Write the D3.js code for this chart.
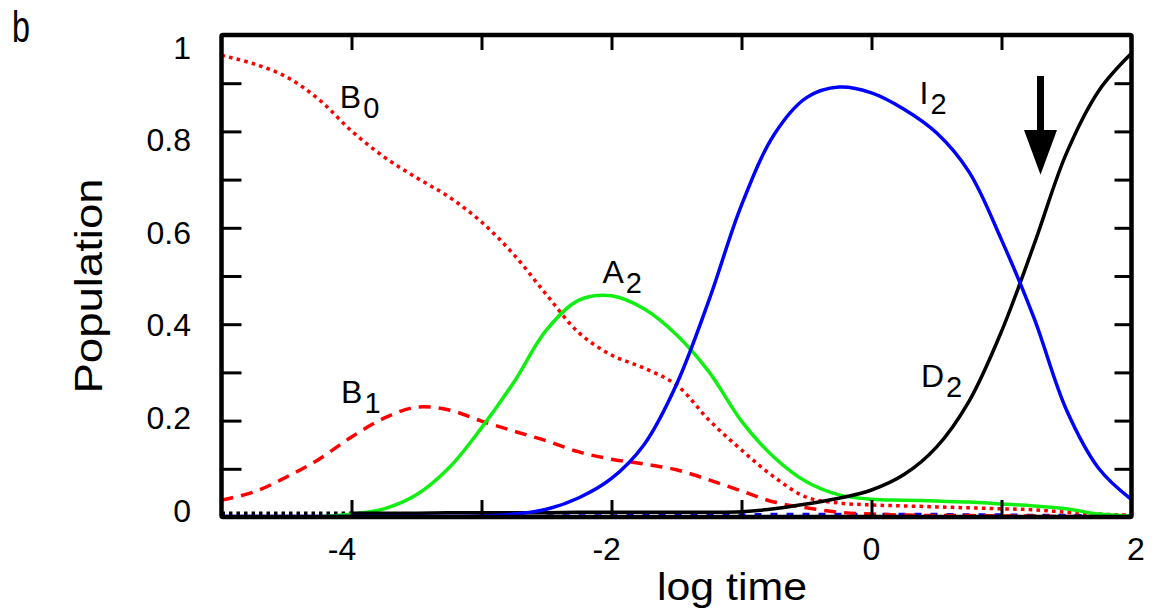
<!DOCTYPE html>
<html>
<head>
<meta charset="utf-8">
<script src="https://cdn.jsdelivr.net/npm/d3@7"></script>
<style>
    body { margin: 0; background: #fff; }
    svg { display: block; font-family: "Liberation Sans", Arial, sans-serif; }
</style>
</head>
<body>
<svg id="chart" width="1156" height="614"></svg>
<script>
// log time grid, every quarter decade
const LOG_TIME = [-5, -4.75, -4.5, -4.25, -4, -3.75, -3.5, -3.25, -3, -2.75, -2.5, -2.25, -2, -1.75, -1.5,
                  -1.25, -1, -0.75, -0.5, -0.25, 0, 0.25, 0.5, 0.75, 1, 1.25, 1.5, 1.75, 2];

const B0 = [0.958, 0.940, 0.913, 0.866, 0.801, 0.747, 0.704, 0.664, 0.612, 0.544, 0.461, 0.382, 0.336, 0.309, 0.274,
            0.201, 0.139, 0.083, 0.041, 0.029, 0.025, 0.023, 0.021, 0.019, 0.017, 0.015, 0.010, 0.006, 0.004];
const B1 = [0.035, 0.052, 0.083, 0.120, 0.166, 0.205, 0.228, 0.222, 0.199, 0.178, 0.158, 0.135, 0.120, 0.110, 0.098,
            0.077, 0.054, 0.031, 0.019, 0.010, 0.006, 0.004, 0.003, 0.003, 0.002, 0.002, 0.001, 0.001, 0.001];
const A2 = [null, null, null, 0.000, 0.006, 0.017, 0.046, 0.102, 0.185, 0.280, 0.388, 0.450, 0.459, 0.432, 0.378,
            0.301, 0.199, 0.124, 0.073, 0.046, 0.037, 0.035, 0.033, 0.031, 0.027, 0.023, 0.017, 0.006, 0.002];
const I2 = [0.001, 0.001, 0.001, 0.001, 0.001, 0.001, 0.001, 0.001, 0.002, 0.006, 0.016, 0.040, 0.080, 0.150, 0.275,
            0.450, 0.647, 0.793, 0.870, 0.892, 0.880, 0.846, 0.797, 0.716, 0.575, 0.413, 0.222, 0.100, 0.036];
const D2 = [null, null, null, null, 0.008, 0.008, 0.008, 0.009, 0.009, 0.009, 0.009, 0.010, 0.010, 0.010, 0.010,
            0.010, 0.011, 0.017, 0.027, 0.039, 0.056, 0.088, 0.145, 0.240, 0.385, 0.565, 0.755, 0.885, 0.962];
const D_EARLY = [0.008, 0.008, 0.008, 0.008, 0.008, null, null, null, null, null, null, null, null, null, null,
                 null, null, null, null, null, null, null, null, null, null, null, null, null, null];
const I_LOW = [null, null, null, null, null, null, null, null, null, null, 0.002, 0.002, 0.002, 0.003, 0.003,
               0.004, 0.004, 0.005, 0.005, 0.005, 0.005, 0.005, 0.005, 0.004, 0.004, 0.003, 0.003, 0.002, null];

const X_TICKS = [-4, -3, -2, -1, 0, 1];
const X_LABELS = [-4, -2, 0, 2];
const Y_TICKS = [0.1, 0.2, 0.3, 0.4, 0.5, 0.6, 0.7, 0.8, 0.9];
const Y_LABELS = [0, 0.2, 0.4, 0.6, 0.8, 1];

const CURVE_LABELS = [
    {name: "B", sub: "0", t: -4.09, p: 0.849},
    {name: "B", sub: "1", t: -4.08, p: 0.237},
    {name: "A", sub: "2", t: -2.07, p: 0.485},
    {name: "I", sub: "2", t: 0.37, p: 0.857},
    {name: "D", sub: "2", t: 0.38, p: 0.270}
];

// arrow at log time 1.3
const ARROW = {t: 1.3, top: 0.915, neck: 0.803, tip: 0.71};

const svg = d3.select("#chart");

const x = d3.scaleLinear().domain([-5, 2]).range([221.5, 1131.5]);
const y = d3.scaleLinear().domain([0, 1]).range([517, 35]);
// tick labels sit on a slightly different spacing than the ticks
const xLabel = d3.scaleLinear().domain([-4, 2]).range([342, 1136]);
const yLabel = d3.scaleLinear().domain([0, 1]).range([521.5, 58.5]);

const series = [
    {values: I_LOW, color: "#0000ff", dash: "7,9"},
    {values: D_EARLY, color: "#000000", dash: "3.5,4"},
    {values: B1, color: "#ff0000", dash: "12,8"},
    {values: B0, color: "#ff0000", dash: "3.6,4.2"},
    {values: A2, color: "#11ee11", dash: null},
    {values: D2, color: "#000000", dash: null},
    {values: I2, color: "#0000ff", dash: null}
];

svg.append("clipPath")
    .attr("id", "plot-clip")
    .append("rect")
    .attr("x", x(-5))
    .attr("y", y(1))
    .attr("width", x(2) - x(-5))
    .attr("height", y(0) - y(1));

let line = d3.line()
    .defined(d => d[1] !== null)
    .x(d => x(d[0]))
    .y(d => y(d[1]))
    .curve(d3.curveCatmullRom.alpha(0.5));

svg.append("g")
    .attr("clip-path", "url(#plot-clip)")
    .selectAll("path")
    .data(series)
    .enter()
    .append("path")
    .attr("d", d => line(LOG_TIME.map((t, i) => [t, d.values[i]])))
    .attr("fill", "none")
    .attr("stroke", d => d.color)
    .attr("stroke-width", 3.5)
    .attr("stroke-dasharray", d => d.dash);

// inward ticks on all four sides
const styleTicks = g => {
    g.select(".domain").remove();
    g.selectAll(".tick line").attr("stroke", "#000").attr("stroke-width", 3);
    g.selectAll(".tick text").remove();
};

svg.append("g")
    .attr("transform", `translate(0, ${y(0)})`)
    .call(d3.axisBottom(x).tickValues(X_TICKS).tickSize(-17))
    .call(styleTicks);
svg.append("g")
    .attr("transform", `translate(0, ${y(1)})`)
    .call(d3.axisTop(x).tickValues(X_TICKS).tickSize(-15))
    .call(styleTicks);
svg.append("g")
    .attr("transform", `translate(${x(-5)}, 0)`)
    .call(d3.axisLeft(y).tickValues(Y_TICKS).tickSize(-20))
    .call(styleTicks);
svg.append("g")
    .attr("transform", `translate(${x(2)}, 0)`)
    .call(d3.axisRight(y).tickValues(Y_TICKS).tickSize(-17))
    .call(styleTicks);

svg.append("rect")
    .attr("x", x(-5))
    .attr("y", y(1))
    .attr("width", x(2) - x(-5))
    .attr("height", y(0) - y(1))
    .attr("fill", "none")
    .attr("stroke", "#000")
    .attr("stroke-width", 4.5)
    .attr("rx", 1.5);

svg.append("g")
    .selectAll("text")
    .data(X_LABELS)
    .enter()
    .append("text")
    .attr("x", d => xLabel(d))
    .attr("y", 560)
    .attr("text-anchor", "middle")
    .attr("font-size", 32)
    .text(d => d);

svg.append("g")
    .selectAll("text")
    .data(Y_LABELS)
    .enter()
    .append("text")
    .attr("x", 191)
    .attr("y", d => yLabel(d))
    .attr("text-anchor", "end")
    .attr("font-size", 32)
    .text(d => d);

svg.append("text")
    .attr("x", 732)
    .attr("y", 600)
    .attr("text-anchor", "middle")
    .attr("font-size", 38)
    .attr("textLength", 150)
    .attr("lengthAdjust", "spacingAndGlyphs")
    .text("log time");

svg.append("text")
    .attr("transform", "translate(102, 286) rotate(-90)")
    .attr("text-anchor", "middle")
    .attr("font-size", 38)
    .attr("textLength", 215)
    .attr("lengthAdjust", "spacingAndGlyphs")
    .text("Population");

svg.append("text")
    .attr("x", 12)
    .attr("y", 42)
    .attr("font-size", 45)
    .attr("textLength", 18)
    .attr("lengthAdjust", "spacingAndGlyphs")
    .text("b");

let labels = svg.append("g")
    .selectAll("text")
    .data(CURVE_LABELS)
    .enter()
    .append("text")
    .attr("x", d => x(d.t))
    .attr("y", d => y(d.p))
    .attr("font-size", 32);
labels.append("tspan").text(d => d.name);
labels.append("tspan")
    .attr("dx", 2)
    .attr("dy", 10)
    .attr("font-size", 29)
    .text(d => d.sub);

// annotation arrow
let ax = x(ARROW.t);
svg.append("rect")
    .attr("x", ax - 3.5)
    .attr("y", y(ARROW.top))
    .attr("width", 7)
    .attr("height", y(ARROW.neck) - y(ARROW.top) + 1)
    .attr("fill", "#000");
svg.append("path")
    .attr("d", `M${ax - 16.5},${y(ARROW.neck)} L${ax + 16.5},${y(ARROW.neck)} L${ax},${y(ARROW.tip)} Z`)
    .attr("fill", "#000");
</script>
</body>
</html>
